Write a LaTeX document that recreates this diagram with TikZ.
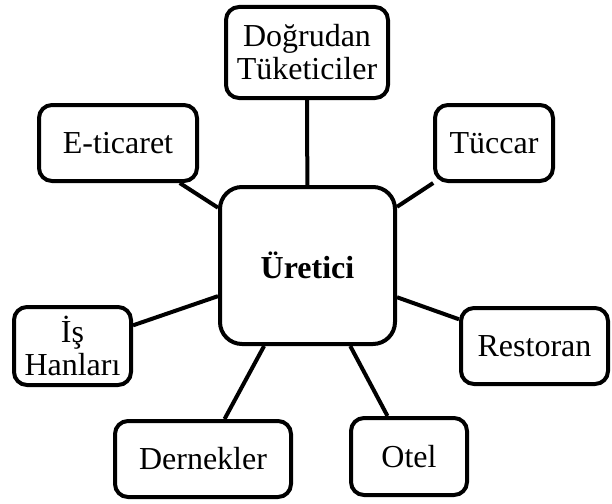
\documentclass[tikz,border=0pt]{standalone}
\usepackage{fontspec}
\setmainfont{Liberation Serif}
\begin{document}
\begin{tikzpicture}[x=1pt,y=-1pt,
  box/.style={draw=black,line width=4pt,rounded corners=13pt,fill=white,
    align=center,inner sep=0pt,font=\fontsize{32}{33}\selectfont},
  hub/.style={box,rounded corners=22pt,font=\fontsize{32}{33}\selectfont\bfseries},
  link/.style={line width=4pt}]
\useasboundingbox (0,0) rectangle (612,503);
\node[hub,minimum width=175pt,minimum height=157pt] (c) at (307.5,265.5) {Üretici};
\node[box,minimum width=162pt,minimum height=91pt] (dt) at (307,52.5) {Doğrudan\\Tüketiciler};
\node[box,minimum width=158pt,minimum height=76pt] (et) at (118,143) {E-ticaret};
\node[box,minimum width=118pt,minimum height=76pt] (tu) at (494,143) {Tüccar};
\node[box,minimum width=117pt,minimum height=78pt] (ih) at (72.5,346) {İş\\Hanları};
\node[box,minimum width=147pt,minimum height=76pt] (re) at (534.5,346) {Restoran};
\node[box,minimum width=176pt,minimum height=76pt] (de) at (203,459) {Dernekler};
\node[box,minimum width=116pt,minimum height=77pt] (ot) at (409,456.5) {Otel};
\foreach \n in {dt,et,tu,ih,re,de,ot} \draw[link] (c) -- (\n);
\end{tikzpicture}
\end{document}
